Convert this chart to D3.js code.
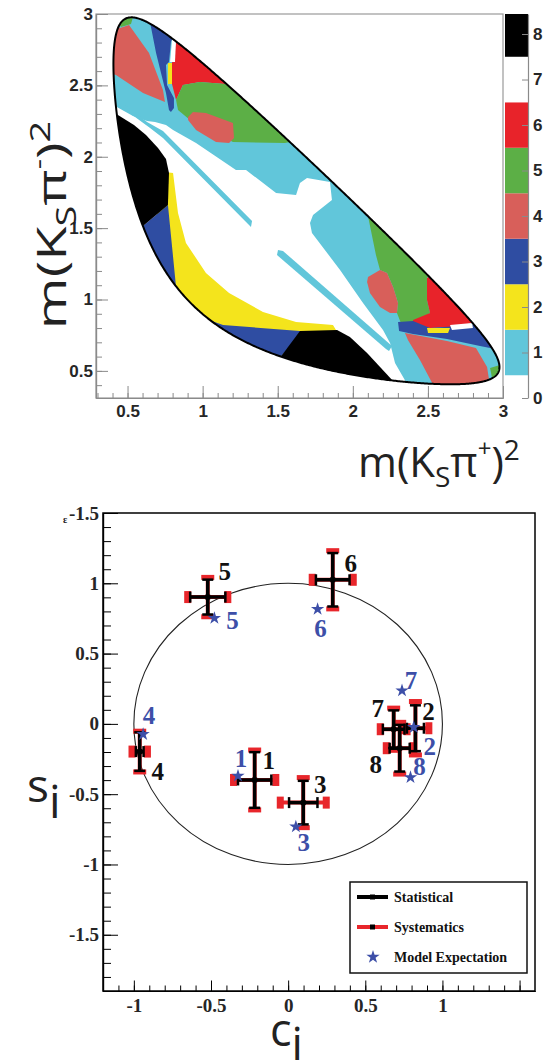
<!DOCTYPE html>
<meta charset="utf-8">
<script src="https://d3js.org/d3.v7.min.js"></script>
<style>
  body { margin: 0; background: #fff; }
</style>
<div id="chart"></div>
<script>
// ---------- top panel: Dalitz plot binning ----------
// particle masses (GeV) -> kinematic boundary of D0 -> KS pi+ pi-
var massD = 1.86484, massK = 0.497611, massPi = 0.13957;

// bin number -> colour (index 0 unused)
var binColors = ["#ffffff", "#61c6da", "#f4e41c", "#2f4da2", "#d85f5a", "#5caf46", "#e8232a", "#ffffff", "#000000"];
var binTicks = [0, 1, 2, 3, 4, 5, 6, 7, 8];
var binMax = 8.44;

var xTicksTop = [0.5, 1, 1.5, 2, 2.5, 3];
var yTicksTop = [0.5, 1, 1.5, 2, 2.5, 3];

// regions [bin, vertices in (m2(KSpi+), m2(KSpi-))], painted in order over a bin-1 background,
// clipped to the kinematic boundary
var binRegions = [
  [7, [[0.317,2.398],[0.417,2.356],[0.536,2.286],[0.630,2.250],[0.683,2.243],[0.756,2.222],[0.803,2.187],[0.956,2.096],[1.222,1.907],[1.289,1.907],[1.489,1.746],[1.622,1.732],[1.648,1.816],[1.695,1.851],[1.848,1.823],[1.861,1.697],[1.735,1.592],[1.715,1.536],[1.728,1.466],[1.915,1.207],[2.068,0.976],[2.201,0.786],[2.248,0.695],[2.281,0.555],[2.354,0.422],[2.381,0.156],[0.317,0.156]]],
  [1, [[0.483,2.363],[0.630,2.243],[0.736,2.180],[1.329,1.550],[1.322,1.508],[0.736,2.131],[0.650,2.201],[0.550,2.278],[0.483,2.328]]],
  [1, [[1.502,1.347],[1.535,1.340],[2.261,0.674],[2.241,0.639],[2.221,0.653],[1.495,1.312]]],
  [4, [[0.317,2.993],[0.450,2.902],[0.510,2.923],[0.643,2.727],[0.736,2.468],[0.749,2.384],[0.603,2.447],[0.423,2.573],[0.283,2.622]]],
  [5, [[0.383,3.028],[0.550,3.028],[0.523,2.930],[0.456,2.909]]],
  [3, [[0.616,3.028],[0.643,2.979],[0.690,2.727],[0.756,2.447],[0.776,2.328],[0.789,2.314],[0.809,2.342],[0.809,2.412],[0.763,2.503],[0.756,2.643],[0.776,2.664],[0.789,2.804],[0.823,2.888],[0.849,3.028]]],
  [6, [[0.816,2.888],[0.823,2.804],[0.796,2.657],[0.796,2.510],[0.823,2.398],[0.869,2.503],[0.982,2.524],[1.149,2.510],[1.249,2.678],[0.849,3.028]]],
  [7, [[0.796,2.818],[0.823,2.818],[0.816,2.664],[0.783,2.664]]],
  [2, [[0.769,2.657],[0.796,2.657],[0.796,2.510],[0.769,2.510]]],
  [5, [[0.823,2.398],[0.869,2.503],[0.982,2.524],[1.149,2.510],[1.382,2.398],[1.648,2.117],[1.548,2.096],[1.202,2.103],[0.916,2.258],[0.836,2.328]]],
  [4, [[0.903,2.278],[0.936,2.314],[1.022,2.307],[1.202,2.236],[1.209,2.131],[1.176,2.096],[1.089,2.103],[0.956,2.187],[0.903,2.258]]],
  [2, [[0.749,1.893],[0.803,1.886],[0.836,1.606],[0.889,1.396],[1.022,1.186],[1.176,1.046],[1.402,0.912],[1.622,0.842],[1.868,0.821],[1.888,0.786],[1.868,0.765],[1.648,0.765],[1.648,0.296],[0.650,0.997],[0.716,1.837]]],
  [3, [[0.450,1.417],[0.603,1.515],[0.769,1.662],[0.823,1.088],[0.650,0.997]]],
  [8, [[0.317,2.363],[0.436,2.292],[0.543,2.222],[0.623,2.152],[0.703,2.061],[0.756,1.984],[0.776,1.886],[0.769,1.662],[0.603,1.515],[0.317,1.417]]],
  [3, [[0.949,0.891],[1.136,0.821],[1.648,0.779],[1.662,0.765],[1.519,0.597],[1.449,0.296],[0.982,0.296]]],
  [8, [[1.648,0.779],[1.895,0.786],[1.981,0.737],[2.095,0.625],[2.274,0.422],[2.320,0.226],[1.449,0.226],[1.519,0.597]]],
  [5, [[2.048,1.697],[2.101,1.585],[2.154,1.312],[2.181,1.207],[2.228,1.186],[2.268,1.088],[2.301,0.976],[2.294,0.905],[2.320,0.835],[2.414,0.842],[2.514,0.905],[2.494,0.997],[2.494,1.151],[2.580,1.277]]],
  [4, [[2.101,1.158],[2.181,1.207],[2.228,1.186],[2.268,1.088],[2.301,0.976],[2.294,0.905],[2.248,0.905],[2.181,0.948],[2.114,1.046],[2.095,1.123]]],
  [6, [[2.494,1.151],[2.494,0.997],[2.514,0.905],[2.401,0.856],[2.401,0.828],[2.514,0.800],[2.647,0.807],[2.800,0.835],[2.980,0.856],[2.580,1.207]]],
  [4, [[2.347,0.765],[2.627,0.709],[2.820,0.660],[2.894,0.527],[2.920,0.350],[2.561,0.350],[2.447,0.576],[2.367,0.716]]],
  [3, [[2.301,0.842],[2.401,0.849],[2.514,0.800],[2.800,0.821],[2.980,0.821],[2.980,0.646],[2.847,0.674],[2.627,0.723],[2.401,0.758],[2.308,0.779]]],
  [2, [[2.494,0.800],[2.647,0.800],[2.634,0.765],[2.501,0.765]]],
  [7, [[2.647,0.821],[2.794,0.835],[2.800,0.800],[2.660,0.786]]],
  [5, [[2.914,0.520],[2.980,0.541],[2.980,0.436],[2.927,0.450]]]
];

// ---------- bottom panel: measured (c_i, s_i) ----------
var binNames = ["1", "2", "3", "4", "5", "6", "7", "8"];
var cMeas  = [-0.217, 0.825, 0.098, -0.962, -0.521, 0.289, 0.684, 0.723];
var sMeas  = [-0.399, -0.031, -0.560, -0.197, 0.902, 1.025, -0.038, -0.173];
var cStat  = [0.108, 0.055, 0.092, 0.025, 0.114, 0.109, 0.070, 0.065];
var sStat  = [0.198, 0.163, 0.155, 0.137, 0.124, 0.190, 0.134, 0.166];
var cSyst  = [0.137, 0.087, 0.149, 0.050, 0.130, 0.133, 0.087, 0.087];
var sSyst  = [0.213, 0.190, 0.178, 0.145, 0.140, 0.207, 0.150, 0.184];
var cModel = [-0.325, 0.814, 0.050, -0.940, -0.478, 0.191, 0.738, 0.793];
var sModel = [-0.370, -0.024, -0.731, -0.074, 0.752, 0.816, 0.237, -0.380];

var xTicksBot = [-1, -0.5, 0, 0.5, 1, 1.5];
var xTickLabelsBot = ["-1", "-0.5", "0", "0.5", "1", ""];
var yTicksBot = [-1.5, -1, -0.5, 0, 0.5, 1, 1.5];
var yTickLabelsBot = ["-1.5", "-1", "-0.5", "0", "0.5", "1", "-1.5"];

// label placement (pixels, relative to the marker)
var measLabelOffset  = [[14,-20],[13,-17],[17,-18],[18,20],[17,-26],[18,-17],[-16,-21],[-24,16]];
var modelLabelOffset = [[3,-18],[16,19],[8,16],[6,-19],[18,2],[3,19],[9,-10],[9,-11]];

var legendNames = ["Statistical", "Systematics", "Model Expectation"];

// ---------- drawing ----------
var width = 546, height = 1063;
var svg = d3.select("#chart").append("svg")
    .attr("width", width)
    .attr("height", height);

var sansBold = "'Liberation Sans', Arial, sans-serif";
var serif = "'Liberation Serif', 'Times New Roman', serif";
var titleFont = "'Open Sans', 'Noto Sans', sans-serif";

var xTop = d3.scaleLinear().domain([0.29, 3]).range([96, 503]);
var yTop = d3.scaleLinear().domain([0.31, 3]).range([398, 14]);
var zTop = d3.scaleLinear().domain([0, binMax]).range([398, 14]);

function dalitzEdge() {
  var M2 = massD * massD, k2 = massK * massK, p2 = massPi * massPi;
  var xmin = Math.pow(massK + massPi, 2), xmax = Math.pow(massD - massPi, 2);
  var upper = [], lower = [];
  d3.range(0, 401).forEach(function(i) {
    var x = xmin + (xmax - xmin) * (1 - Math.cos(Math.PI * i / 400)) / 2;
    var m12 = Math.sqrt(x);
    var e1 = (x + k2 - p2) / (2 * m12), e3 = (M2 - x - p2) / (2 * m12);
    var q1 = Math.sqrt(Math.max(e1 * e1 - k2, 0)), q3 = Math.sqrt(Math.max(e3 * e3 - p2, 0));
    var s = (e1 + e3) * (e1 + e3);
    upper.push([x, s - (q1 - q3) * (q1 - q3)]);
    lower.push([x, s - (q1 + q3) * (q1 + q3)]);
  });
  return upper.concat(lower.reverse());
}

var topLine = d3.line()
    .x(function(d) { return xTop(d[0]); })
    .y(function(d) { return yTop(d[1]); });
var edge = dalitzEdge();

svg.append("clipPath").attr("id", "dalitz")
  .append("path").attr("d", topLine(edge) + "Z");

var cells = svg.append("g").attr("clip-path", "url(#dalitz)");
cells.append("path")
    .attr("d", topLine(edge) + "Z")
    .attr("fill", binColors[1]);
cells.selectAll("path.bin")
    .data(binRegions)
  .enter().append("path")
    .attr("class", "bin")
    .attr("d", function(d) { return topLine(d[1]) + "Z"; })
    .attr("fill", function(d) { return binColors[d[0]]; });

svg.append("path")
    .attr("d", topLine(edge) + "Z")
    .attr("fill", "none")
    .attr("stroke", "#000")
    .attr("stroke-width", 2);

// colour bar
svg.append("g").selectAll("rect")
    .data(d3.range(1, 9))
  .enter().append("rect")
    .attr("x", 505)
    .attr("width", 23)
    .attr("y", function(k) { return zTop(Math.min(k + 0.5, binMax)); })
    .attr("height", function(k) { return zTop(k - 0.5) - zTop(Math.min(k + 0.5, binMax)); })
    .attr("fill", function(k) { return binColors[k]; });

// frame + axes (top)
svg.append("rect")
    .attr("x", 96).attr("y", 14).attr("width", 407).attr("height", 384)
    .attr("fill", "none").attr("stroke", "#9a9a9a").attr("stroke-width", 1.2);

function styleAxis(g, color, font, size, weight) {
  g.attr("font-family", font).attr("font-size", size).attr("font-weight", weight);
  g.select(".domain").attr("stroke", color).attr("stroke-width", 1.2);
  g.selectAll(".tick line").attr("stroke", color).attr("stroke-width", 1);
  g.selectAll(".tick text").attr("fill", "#262626")
      .style("font-family", font).style("font-size", size + "px").style("font-weight", weight);
}

svg.append("g").attr("transform", "translate(0,398)")
    .call(d3.axisBottom(xTop).tickValues(d3.range(3, 31).map(function(d) { return d / 10; }))
      .tickSize(-5).tickSizeOuter(0).tickFormat(""))
    .call(styleAxis, "#8a8a8a", sansBold, 17, "bold");
svg.append("g").attr("transform", "translate(0,398)")
    .call(d3.axisBottom(xTop).tickValues(xTicksTop).tickSize(-12).tickSizeOuter(0).tickPadding(7)
      .tickFormat(d3.format("")))
    .call(styleAxis, "#8a8a8a", sansBold, 17, "bold");
svg.append("g").attr("transform", "translate(96,0)")
    .call(d3.axisLeft(yTop).tickValues(d3.range(4, 31).map(function(d) { return d / 10; }))
      .tickSize(-6).tickSizeOuter(0).tickFormat(""))
    .call(styleAxis, "#8a8a8a", sansBold, 17, "bold");
svg.append("g").attr("transform", "translate(96,0)")
    .call(d3.axisLeft(yTop).tickValues(yTicksTop).tickSize(-12).tickSizeOuter(0).tickPadding(3)
      .tickFormat(d3.format("")))
    .call(styleAxis, "#8a8a8a", sansBold, 17, "bold");
svg.append("g").attr("transform", "translate(528,0)")
    .call(d3.axisRight(zTop).tickValues(binTicks).tickSize(-6).tickSizeOuter(0).tickPadding(5))
    .call(styleAxis, "#8a8a8a", sansBold, 17, "bold");

// axis titles (top)
var tx = svg.append("text")
    .attr("x", 358).attr("y", 477)
    .attr("font-family", titleFont).attr("font-size", 42).attr("fill", "#222");
tx.append("tspan").text("m(K");
tx.append("tspan").attr("font-size", 28).attr("dy", 10).text("S");
tx.append("tspan").attr("dy", -10).text("π");
tx.append("tspan").attr("font-size", 24).attr("dy", -20).text("+");
tx.append("tspan").attr("dy", 20).text(")");
tx.append("tspan").attr("font-size", 28).attr("dy", -17).text("2");

var ty = svg.append("text")
    .attr("transform", "translate(66,225) rotate(-90) scale(1.4,1)")
    .attr("text-anchor", "middle")
    .attr("font-family", titleFont).attr("font-size", 40).attr("fill", "#222");
ty.append("tspan").text("m(K");
ty.append("tspan").attr("font-size", 27).attr("dy", 10).text("S");
ty.append("tspan").attr("dy", -10).text("π");
ty.append("tspan").attr("font-size", 23).attr("dy", -19).text("-");
ty.append("tspan").attr("dy", 19).text(")");
ty.append("tspan").attr("font-size", 27).attr("dy", -16).text("2");

// ---------- bottom panel ----------
var xB = d3.scaleLinear().domain([-1.2, 1.6]).range([103, 535]);
var yB = d3.scaleLinear().domain([-1.9, 1.5]).range([991, 513]);

svg.append("ellipse")
    .attr("cx", xB(0)).attr("cy", yB(0))
    .attr("rx", xB(1) - xB(0)).attr("ry", yB(0) - yB(1))
    .attr("fill", "none").attr("stroke", "#222").attr("stroke-width", 1.1);

var pts = d3.range(cMeas.length);
var marks = svg.append("g");

// systematics (red), drawn under the statistical bars
pts.forEach(function(i) {
  var cx = xB(cMeas[i]), cy = yB(sMeas[i]);
  var x0 = xB(cMeas[i] - cSyst[i]), x1 = xB(cMeas[i] + cSyst[i]);
  var y0 = yB(sMeas[i] - sSyst[i]), y1 = yB(sMeas[i] + sSyst[i]);
  marks.append("line").attr("x1", x0).attr("x2", x1).attr("y1", cy).attr("y2", cy)
      .attr("stroke", "#e8262b").attr("stroke-width", 4);
  marks.append("line").attr("x1", cx).attr("x2", cx).attr("y1", y0).attr("y2", y1)
      .attr("stroke", "#e8262b").attr("stroke-width", 4);
  [x0, x1].forEach(function(x) {
    marks.append("rect").attr("x", x - 3.5).attr("y", cy - 6).attr("width", 7).attr("height", 12).attr("fill", "#e8262b");
  });
  [y0, y1].forEach(function(y) {
    marks.append("rect").attr("x", cx - 6.5).attr("y", y - 2.5).attr("width", 13).attr("height", 5).attr("fill", "#e8262b");
  });
});

// statistical (black)
pts.forEach(function(i) {
  var cx = xB(cMeas[i]), cy = yB(sMeas[i]);
  var x0 = xB(cMeas[i] - cStat[i]), x1 = xB(cMeas[i] + cStat[i]);
  var y0 = yB(sMeas[i] - sStat[i]), y1 = yB(sMeas[i] + sStat[i]);
  marks.append("line").attr("x1", x0).attr("x2", x1).attr("y1", cy).attr("y2", cy)
      .attr("stroke", "#000").attr("stroke-width", 3.5);
  marks.append("line").attr("x1", cx).attr("x2", cx).attr("y1", y0).attr("y2", y1)
      .attr("stroke", "#000").attr("stroke-width", 3.5);
  [x0, x1].forEach(function(x) {
    marks.append("line").attr("x1", x).attr("x2", x).attr("y1", cy - 5.5).attr("y2", cy + 5.5)
        .attr("stroke", "#000").attr("stroke-width", 2.5);
  });
  [y0, y1].forEach(function(y) {
    marks.append("line").attr("x1", cx - 5.5).attr("x2", cx + 5.5).attr("y1", y).attr("y2", y)
        .attr("stroke", "#000").attr("stroke-width", 2.5);
  });
  marks.append("rect").attr("x", cx - 2.5).attr("y", cy - 2.5).attr("width", 5).attr("height", 5).attr("fill", "#000");
});

var star = d3.symbol().type(d3.symbolStar).size(55);
svg.append("g").selectAll("path")
    .data(pts)
  .enter().append("path")
    .attr("d", star)
    .attr("transform", function(i) { return "translate(" + xB(cModel[i]) + "," + yB(sModel[i]) + ")"; })
    .attr("fill", "#3d4fa8");

svg.append("g").selectAll("text")
    .data(pts)
  .enter().append("text")
    .attr("x", function(i) { return xB(cMeas[i]) + measLabelOffset[i][0]; })
    .attr("y", function(i) { return yB(sMeas[i]) + measLabelOffset[i][1]; })
    .attr("dy", "0.35em")
    .attr("text-anchor", "middle")
    .attr("font-family", serif).attr("font-weight", "bold").attr("font-size", 25)
    .attr("fill", "#111")
    .text(function(i) { return binNames[i]; });

svg.append("g").selectAll("text")
    .data(pts)
  .enter().append("text")
    .attr("x", function(i) { return xB(cModel[i]) + modelLabelOffset[i][0]; })
    .attr("y", function(i) { return yB(sModel[i]) + modelLabelOffset[i][1]; })
    .attr("dy", "0.35em")
    .attr("text-anchor", "middle")
    .attr("font-family", serif).attr("font-weight", "bold").attr("font-size", 25)
    .attr("fill", "#3d4fa8")
    .text(function(i) { return binNames[i]; });

// legend
var leg = svg.append("g");
leg.append("rect").attr("x", 350).attr("y", 882).attr("width", 177).attr("height", 91)
    .attr("fill", "#fff").attr("stroke", "#111").attr("stroke-width", 1.5);
leg.append("line").attr("x1", 357).attr("x2", 388).attr("y1", 897).attr("y2", 897)
    .attr("stroke", "#000").attr("stroke-width", 4);
leg.append("rect").attr("x", 370).attr("y", 894.5).attr("width", 5).attr("height", 5).attr("fill", "#000");
leg.append("line").attr("x1", 357).attr("x2", 388).attr("y1", 927).attr("y2", 927)
    .attr("stroke", "#e8262b").attr("stroke-width", 4);
leg.append("rect").attr("x", 370).attr("y", 924.5).attr("width", 5).attr("height", 5).attr("fill", "#000");
leg.append("path").attr("d", star).attr("transform", "translate(373,957)").attr("fill", "#3d4fa8");
leg.selectAll("text.lab")
    .data(legendNames)
  .enter().append("text")
    .attr("class", "lab")
    .attr("x", 394)
    .attr("y", function(d, i) { return 902 + i * 30; })
    .attr("font-family", serif).attr("font-weight", "bold").attr("font-size", 14)
    .attr("fill", "#111")
    .text(function(d) { return d; });

// frame + axes (bottom)
svg.append("rect")
    .attr("x", 103).attr("y", 513).attr("width", 432).attr("height", 478)
    .attr("fill", "none").attr("stroke", "#000").attr("stroke-width", 1.5);

svg.append("g").attr("transform", "translate(0,991)")
    .call(d3.axisBottom(xB).tickValues(d3.range(-12, 16).map(function(d) { return d / 10; }))
      .tickSize(-5.5).tickSizeOuter(0).tickFormat(""))
    .call(styleAxis, "#000", serif, 19, "bold");
svg.append("g").attr("transform", "translate(0,991)")
    .call(d3.axisBottom(xB).tickValues(xTicksBot).tickSize(-10.5).tickSizeOuter(0).tickPadding(8)
      .tickFormat(function(d, i) { return xTickLabelsBot[i]; }))
    .call(styleAxis, "#000", serif, 19, "bold");
svg.append("g").attr("transform", "translate(103,0)")
    .call(d3.axisLeft(yB).tickValues(d3.range(-19, 15).map(function(d) { return d / 10; }))
      .tickSize(-8).tickSizeOuter(0).tickFormat(""))
    .call(styleAxis, "#000", serif, 19, "bold");
svg.append("g").attr("transform", "translate(103,0)")
    .call(d3.axisLeft(yB).tickValues(yTicksBot).tickSize(-15).tickSizeOuter(0).tickPadding(4)
      .tickFormat(function(d, i) { return yTickLabelsBot[i]; }))
    .call(styleAxis, "#000", serif, 19, "bold");

svg.append("text").attr("x", 63).attr("y", 523)
    .attr("font-family", serif).attr("font-size", 10).attr("font-weight", "bold").attr("fill", "#222")
    .text("ɛ");

// axis titles (bottom)
var sx = svg.append("text").attr("x", 270).attr("y", 1046)
    .attr("font-family", titleFont).attr("font-size", 45).attr("fill", "#222");
sx.append("tspan").text("c");
sx.append("tspan").attr("dy", 14).text("i");

var sy = svg.append("text").attr("x", 27).attr("y", 802)
    .attr("font-family", titleFont).attr("font-size", 46).attr("fill", "#222");
sy.append("tspan").text("s");
sy.append("tspan").attr("dy", 16).text("i");
</script>
